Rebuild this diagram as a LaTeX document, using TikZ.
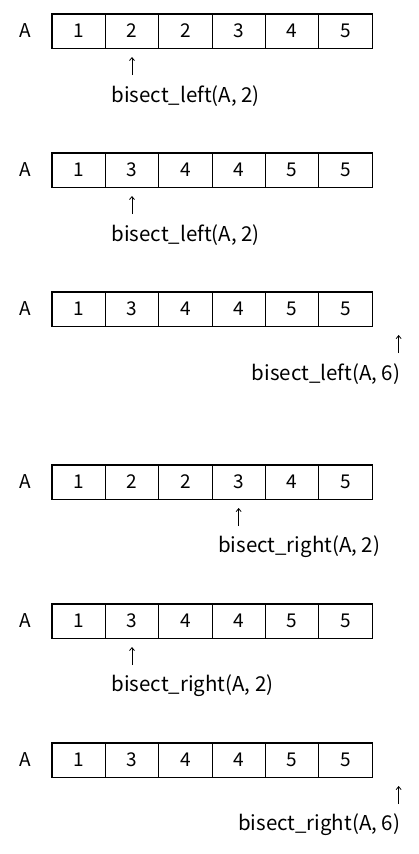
\documentclass[tikz,border=0pt]{standalone}
\usepackage{fontspec}
\setmainfont{Noto Sans CJK JP}
\usetikzlibrary{calc,arrows.meta}

\begin{document}
\begin{tikzpicture}[
		x=1pt, y=-1pt,
		line join=miter,
		cell/.style={draw, line width=0.8pt, minimum width=53.33pt, minimum height=34pt, inner sep=0pt},
		font=\fontsize{19}{21}\selectfont
		]
		\useasboundingbox (0,0) rectangle (419,854);
		\fill[white] (0,0) rectangle (419,854);
		
		\foreach \y/\vals/\k/\lab/\side in {
				31/{1,2,2,3,4,5}/2/{bisect\_left(A, 2)}/w,
				170/{1,3,4,4,5,5}/2/{bisect\_left(A, 2)}/w,
				309/{1,3,4,4,5,5}/7/{bisect\_left(A, 6)}/e,
				482/{1,2,2,3,4,5}/4/{bisect\_right(A, 2)}/w,
				621/{1,3,4,4,5,5}/2/{bisect\_right(A, 2)}/w,
				760/{1,3,4,4,5,5}/7/{bisect\_right(A, 6)}/e} {
			\begin{scope}[shift={(0,\y)}]
				\node (name) at (25,0) {A};
				\foreach \v [count=\i] in \vals {
					\node[cell] (c\i) at ({52+(\i-0.5)*53.33},0) {\v};
				}
				\draw[line width=1.6pt] (c1.north west) rectangle (c6.south east);
				% pointer
				\coordinate (tail) at ({52+(\k-0.5)*53.33},44);
				\coordinate (tip) at ({52+(\k-0.5)*53.33},26);
				\draw[line width=0.8pt, -{Straight Barb[length=3pt,width=5pt]}] (tail) -- (tip);
				\if\side w
					\node[anchor=west, font=\fontsize{20.5}{22}\selectfont] (call) at ($(tail)+(-24,21)$) {\lab};
				\else
					\node[anchor=east, font=\fontsize{20.5}{22}\selectfont] (call) at ($(tail)+(5,21)$) {\lab};
				\fi
			\end{scope}
		}
		
	\end{tikzpicture}
\end{document}
